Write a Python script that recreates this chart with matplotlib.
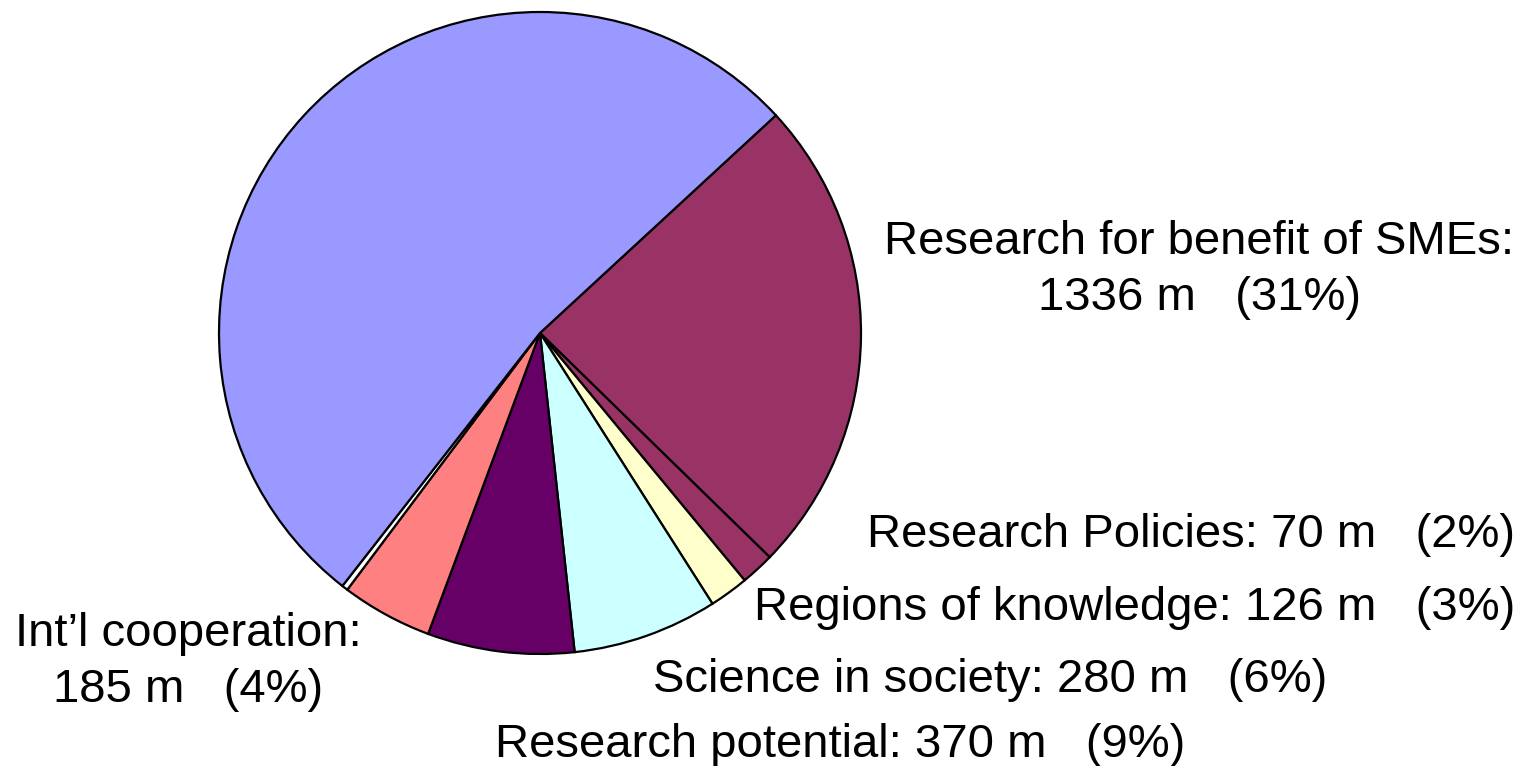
import matplotlib.pyplot as plt

# ----------------------------------------------------
#                 DATA
# ----------------------------------------------------
# wedge order: clockwise starting from the top-right boundary
programmes = ["Research for benefit of SMEs", "Research Policies", "Regions of knowledge",
              "Science in society", "Research potential", "Int\u2019l cooperation",
              "gap", "Research infrastructures"]
budget_m = [1336, 70, 126, 280, 370, 185, None, None]
share_pct = [31, 2, 3, 6, 9, 4, None, None]
# drawn wedge sizes (degrees of the circle, as they appear in the picture)
wedge_deg = [87.0, 6.1, 7.1, 26.3, 26.6, 16.5, 1.1, 189.3]
colors = ["#993366", "#993366", "#FFFFCC", "#CCFFFF", "#660066", "#FF8080",
          "#FFFFFF", "#9999FF"]

W, H = 1526, 766

plt.rcParams["font.family"] = ["Liberation Sans", "DejaVu Sans"]

fig = plt.figure(figsize=(W / 100, H / 100), dpi=100)
ax = fig.add_axes([0, 0, 1, 1])

ax.pie(
    wedge_deg,
    colors=colors,
    startangle=42.7,
    counterclock=False,
    center=(540, H - 333),
    radius=321,
    wedgeprops={"edgecolor": "black", "linewidth": 1.6},
)
ax.set_xlim(0, W)
ax.set_ylim(0, H)
ax.set_aspect("equal")
ax.axis("off")


def lab(i):
    return f"{budget_m[i]} m   ({share_pct[i]}%)"


fs = 34
ax.text(1199, H - 270, f"{programmes[0]}:\n{lab(0)}", fontsize=fs, linespacing=1.38,
        ha="center", va="center", multialignment="center")
ax.text(1515, H - 535, f"{programmes[1]}: {lab(1)}", fontsize=fs, ha="right", va="center")
ax.text(1515, H - 608, f"{programmes[2]}: {lab(2)}", fontsize=fs, ha="right", va="center")
ax.text(1327, H - 680, f"{programmes[3]}: {lab(3)}", fontsize=fs, ha="right", va="center")
ax.text(840, H - 745, f"{programmes[4]}: {lab(4)}", fontsize=fs, ha="center", va="center")
ax.text(188, H - 662, f"{programmes[5]}:\n{lab(5)}", fontsize=fs, linespacing=1.38,
        ha="center", va="center", multialignment="center")

fig.savefig("out.png", dpi=100)
